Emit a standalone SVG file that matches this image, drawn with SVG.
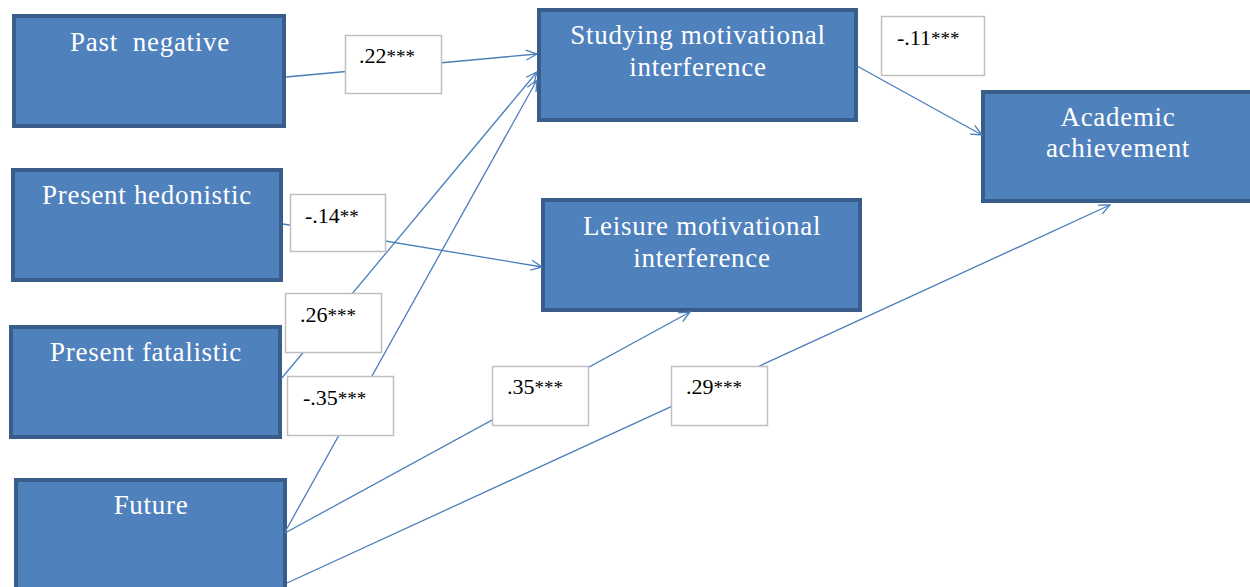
<svg xmlns="http://www.w3.org/2000/svg" width="1250" height="587" viewBox="0 0 1250 587">
<defs>
<marker id="arr" markerUnits="userSpaceOnUse" markerWidth="14" markerHeight="14" refX="12" refY="6" orient="auto" viewBox="0 0 14 12">
<path d="M1,1 L12,6 L1,11" fill="none" stroke="#4a7ebb" stroke-width="1.3"/>
</marker>
<style>
.node{fill:#4f81bd;stroke:#385d8a;stroke-width:4}
.nt{font-family:"Liberation Serif","Times New Roman",serif;font-size:27px;fill:#ffffff;text-anchor:middle;letter-spacing:0.7px}
.lab{fill:#ffffff;stroke:#bfbfbf;stroke-width:1.5}
.lt{font-family:"Liberation Serif","Times New Roman",serif;font-size:22px;fill:#000000}
.ast{font-size:19px}
.con{stroke:#4a7ebb;stroke-width:1.3;fill:none;marker-end:url(#arr)}
</style>
</defs>
<rect width="1250" height="587" fill="#ffffff"/>
<g id="past-negative"><rect class="node" x="14" y="16" width="270" height="110"/><text class="nt" x="150" y="51">Past&#160; negative</text></g>
<g id="present-hedonistic"><rect class="node" x="13" y="170" width="268" height="110"/><text class="nt" x="147" y="204">Present hedonistic</text></g>
<g id="present-fatalistic"><rect class="node" x="11" y="327" width="269" height="110"/><text class="nt" x="146" y="361">Present fatalistic</text></g>
<g id="future"><rect class="node" x="16" y="480" width="269" height="120"/><text class="nt" x="151" y="514">Future</text></g>
<g id="studying"><rect class="node" x="539" y="10" width="317" height="110"/><text class="nt" x="698" y="44">Studying motivational</text><text class="nt" x="698" y="76">interference</text></g>
<g id="leisure"><rect class="node" x="543" y="200" width="317" height="110"/><text class="nt" x="702" y="235">Leisure motivational</text><text class="nt" x="702" y="267">interference</text></g>
<g id="academic"><rect class="node" x="983" y="92" width="272" height="109"/><text class="nt" x="1118" y="126">Academic</text><text class="nt" x="1118" y="157">achievement</text></g>
<g id="connectors">
<line class="con" x1="286" y1="77" x2="537" y2="54"/>
<line class="con" x1="283" y1="224" x2="542" y2="267"/>
<line class="con" x1="281" y1="379" x2="537" y2="72"/>
<line class="con" x1="285" y1="532" x2="537" y2="80"/>
<line class="con" x1="285" y1="533" x2="690" y2="312"/>
<line class="con" x1="287" y1="583" x2="1110" y2="205"/>
<line class="con" x1="857" y1="66" x2="982" y2="135"/>
</g>
<g id="labels">
<g id="l-22"><rect class="lab" x="345.5" y="35.5" width="96" height="58"/><text class="lt" x="359" y="63">.22<tspan class="ast">***</tspan></text></g>
<g id="l-14"><rect class="lab" x="290.5" y="194.5" width="95" height="57"/><text class="lt" x="305" y="223">-.14<tspan class="ast">**</tspan></text></g>
<g id="l-26"><rect class="lab" x="285.5" y="293.5" width="96" height="59"/><text class="lt" x="300" y="322">.26<tspan class="ast">***</tspan></text></g>
<g id="l-35n"><rect class="lab" x="287.5" y="376.5" width="106" height="59"/><text class="lt" x="303" y="405">-.35<tspan class="ast">***</tspan></text></g>
<g id="l-11"><rect class="lab" x="881.5" y="16.5" width="103" height="59"/><text class="lt" x="897" y="45">-.11<tspan class="ast">***</tspan></text></g>
<g id="l-35"><rect class="lab" x="492.5" y="366.5" width="96" height="59"/><text class="lt" x="507" y="394">.35<tspan class="ast">***</tspan></text></g>
<g id="l-29"><rect class="lab" x="671.5" y="366.5" width="96" height="59"/><text class="lt" x="686" y="394">.29<tspan class="ast">***</tspan></text></g>
</g>
</svg>
